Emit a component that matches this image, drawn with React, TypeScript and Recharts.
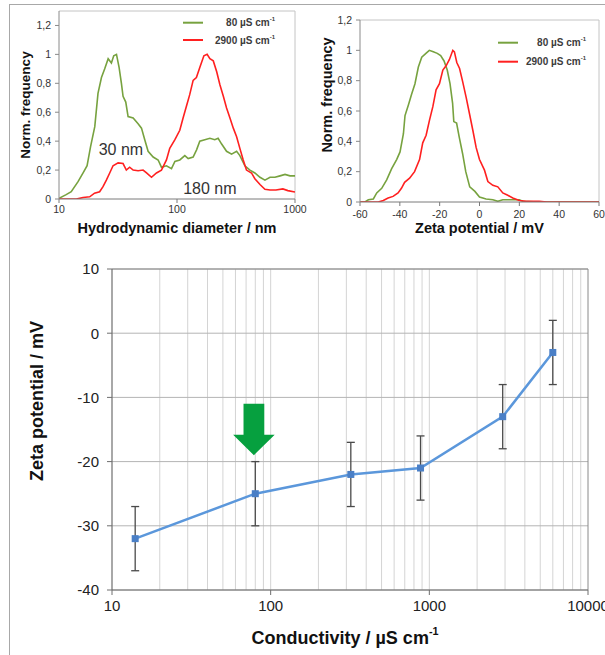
import React from 'react';
import {
  LineChart,
  ComposedChart,
  Line,
  XAxis,
  YAxis,
  CartesianGrid,
  ReferenceLine,
  ReferenceDot,
  ReferenceArea,
  ErrorBar,
  Legend,
  Label,
} from 'recharts';

// ---------- Top-left: hydrodynamic diameter distribution ----------
const dls80Diam = [10, 11.5, 12.7, 14.5, 16, 17.3, 18.5, 20.1, 21.4, 22.9, 24.4, 26.1, 27.8, 29.1, 30.7, 32.3, 33.8, 34.9, 36.8, 38.5, 42.5, 46.8, 50, 53.3, 56.9, 62.8, 69.2, 73.8, 81.4, 89.8, 96, 105.6, 116.5, 124.4, 137, 146.5, 156, 172, 190, 209, 223, 239, 263, 290, 320, 341, 376, 415, 457, 505, 556, 614, 676, 746, 823, 907, 1000];
const dls80Freq = [0.005, 0.03, 0.05, 0.12, 0.18, 0.23, 0.36, 0.5, 0.73, 0.84, 0.9, 0.97, 0.94, 0.99, 1.0, 0.91, 0.8, 0.71, 0.67, 0.57, 0.56, 0.52, 0.49, 0.41, 0.33, 0.29, 0.27, 0.22, 0.23, 0.21, 0.26, 0.27, 0.3, 0.28, 0.29, 0.34, 0.4, 0.41, 0.42, 0.41, 0.42, 0.38, 0.33, 0.31, 0.33, 0.3, 0.23, 0.2, 0.18, 0.15, 0.13, 0.15, 0.15, 0.16, 0.17, 0.16, 0.16];
const dls2900Diam = [10, 14, 16, 18.2, 20, 22.1, 23.6, 25.2, 26.9, 28.7, 31.7, 34.9, 37.2, 39.7, 42.5, 46.8, 51.6, 55.2, 60.8, 67, 73.8, 81.4, 86.8, 96, 105.6, 112.6, 120, 128, 137, 146, 156, 169, 180, 190, 203, 217, 231, 247, 263, 281, 300, 320, 341, 364, 388, 428, 457, 505, 556, 614, 689, 789, 870, 1000];
const dls2900Freq = [0, 0, 0.01, 0.015, 0.04, 0.05, 0.085, 0.13, 0.18, 0.23, 0.25, 0.245, 0.2, 0.22, 0.2, 0.195, 0.2, 0.18, 0.15, 0.18, 0.2, 0.27, 0.35, 0.41, 0.475, 0.56, 0.64, 0.72, 0.82, 0.84, 0.91, 0.99, 1.0, 0.97, 0.955, 0.88, 0.79, 0.71, 0.63, 0.56, 0.49, 0.43, 0.35, 0.27, 0.2, 0.18, 0.14, 0.1, 0.067, 0.062, 0.062, 0.07, 0.058, 0.048];

// ---------- Top-right: zeta potential distribution ----------
const zp80Pot = [-60, -57.5, -55.8, -53.3, -51.6, -49.1, -46.6, -44.1, -41.6, -39.9, -38.2, -37.4, -35.7, -34.1, -32.4, -30.7, -29, -26.9, -25.2, -23.2, -21.2, -19.5, -17.8, -16.2, -14.8, -13.5, -12.9, -11.5, -10.2, -8.5, -6.9, -4.9, -2.3, 0, 3.3, 6.7, 9.2, 11.7, 16.7, 20, 21.7, 30, 60];
const zp80Freq = [0, 0, 0.015, 0.02, 0.06, 0.09, 0.146, 0.22, 0.28, 0.33, 0.45, 0.57, 0.64, 0.71, 0.78, 0.89, 0.955, 0.98, 1.0, 0.99, 0.98, 0.965, 0.93, 0.87, 0.78, 0.65, 0.53, 0.52, 0.43, 0.32, 0.2, 0.1, 0.07, 0.033, 0.02, 0.015, 0.005, 0.015, 0.015, 0.015, 0.005, 0, 0];
const zp2900Pot = [-60, -50.8, -48.3, -45.9, -43.4, -40.9, -39.2, -37.6, -35.1, -32.6, -30.1, -28.5, -26.8, -25.1, -23.4, -21.8, -20.1, -18.4, -16.7, -15.1, -13.4, -12.6, -11.4, -10, -8.4, -6.7, -5, -3.3, -1.7, 0, 2.5, 4.2, 6.7, 9.2, 11.7, 14.2, 16.7, 20, 23.4, 30, 33.7, 60];
const zp2900Freq = [0, 0, 0.01, 0.026, 0.037, 0.06, 0.09, 0.13, 0.157, 0.2, 0.28, 0.39, 0.44, 0.54, 0.63, 0.74, 0.78, 0.87, 0.9, 0.94, 1.0, 0.99, 0.92, 0.88, 0.79, 0.69, 0.58, 0.47, 0.36, 0.28, 0.21, 0.135, 0.11, 0.1, 0.06, 0.044, 0.026, 0.01, 0.004, 0.004, 0, 0];

// ---------- Bottom: zeta potential vs conductivity ----------
const conductivity = [14, 80, 320, 880, 2900, 6000];
const zetaMean = [-32, -25, -22, -21, -13, -3];
const zetaErr = [5, 5, 5, 5, 5, 5];

const seriesNames = ['80 µS cm', '2900 µS cm'];
const seriesColors = ['#77a23f', '#ff2020'];

const normTicks = [0, 0.2, 0.4, 0.6, 0.8, 1, 1.2];
const diamTicks = [10, 100, 1000];
const potTicks = [-60, -40, -20, 0, 20, 40, 60];
const condTicks = [10, 100, 1000, 10000];
const zetaTicks = [-40, -30, -20, -10, 0, 10];
const condGrid = [20, 30, 40, 50, 60, 70, 80, 90, 100, 200, 300, 400, 500, 600, 700, 800, 900, 1000, 2000, 3000, 4000, 5000, 6000, 7000, 8000, 9000];

const FONT = '"Liberation Sans", Arial, Helvetica, sans-serif';

const zip = (xs: number[], ys: number[]) => xs.map((x, i) => ({ x, y: ys[i] }));
const dls80 = zip(dls80Diam, dls80Freq);
const dls2900 = zip(dls2900Diam, dls2900Freq);
const zp80 = zip(zp80Pot, zp80Freq);
const zp2900 = zip(zp2900Pot, zp2900Freq);
const bottomData = conductivity.map((c, i) => ({ x: c, z: zetaMean[i], err: zetaErr[i] }));

const comma = (v: number) => String(v).replace('.', ',');

function axisTitle(text: string, sup: string | null, fontSize: number, dx: number, dy: number, rotate: boolean) {
  return (props: any) => {
    const vb = props.viewBox || { x: 0, y: 0, width: 0, height: 0 };
    const cx = vb.x + vb.width / 2 + dx;
    const cy = vb.y + vb.height / 2 + dy;
    return (
      <text
        x={cx}
        y={cy}
        textAnchor="middle"
        dominantBaseline="central"
        fontSize={fontSize}
        fontWeight="bold"
        fontFamily={FONT}
        fill="#111"
        transform={rotate ? `rotate(-90 ${cx} ${cy})` : undefined}
      >
        {text}
        {sup ? (
          <tspan dy={-fontSize * 0.38} fontSize={fontSize * 0.6}>
            {sup}
          </tspan>
        ) : null}
      </text>
    );
  };
}

function legendContent(w: number, h: number, rows: number[], textEnd: number, fontSize: number) {
  return () => (
    <svg width={w} height={h} style={{ display: 'block', overflow: 'visible' }}>
      {seriesNames.map((n, i) => (
        <g key={n}>
          <line x1={3} x2={23} y1={rows[i]} y2={rows[i]} stroke={seriesColors[i]} strokeWidth={2} />
          <text
            x={textEnd}
            y={rows[i]}
            textAnchor="end"
            dominantBaseline="central"
            fontSize={fontSize}
            fontWeight="bold"
            fontFamily={FONT}
            fill="#3c3c3c"
          >
            {n}
            <tspan dy={-fontSize * 0.35} fontSize={fontSize * 0.6}>
              -1
            </tspan>
          </text>
        </g>
      ))}
    </svg>
  );
}

const ArrowShape = (p: any) => {
  const { x, y, width: w, height: h } = p;
  const s1 = x + w * 0.25;
  const s2 = x + w * 0.75;
  const hy = y + h * 0.6;
  const pts = `${s1},${y} ${s2},${y} ${s2},${hy} ${x + w},${hy} ${x + w / 2},${y + h} ${x},${hy} ${s1},${hy}`;
  return <polygon points={pts} fill="#06a03f" />;
};

const SquareDot = (p: any) => {
  if (p.cx == null || p.cy == null) return <g key={p.index} />;
  return <rect key={p.index} x={p.cx - 3.5} y={p.cy - 3.5} width={7} height={7} fill="#4a7fc6" />;
};

const smallTick = { fontSize: 10.5, fill: '#333', fontFamily: FONT };

export default function App() {
  return (
    <div
      style={{
        position: 'absolute',
        left: 0,
        top: 0,
        width: 605,
        height: 655,
        background: '#fff',
        overflow: 'hidden',
        fontFamily: FONT,
      }}
    >
      {/* outer frame */}
      <div
        style={{
          position: 'absolute',
          left: 9,
          top: 4,
          width: 600,
          height: 660,
          borderLeft: '1px solid #a8a8a8',
          borderTop: '1px solid #a8a8a8',
        }}
      />

      {/* Top-left chart */}
      <div style={{ position: 'absolute', left: 0, top: 0 }}>
        <LineChart width={318} height={240} margin={{ top: 11, right: 23, bottom: 21, left: 0 }}>
          <XAxis
            type="number"
            dataKey="x"
            scale="log"
            domain={[10, 1000]}
            ticks={diamTicks}
            allowDataOverflow
            height={20}
            tick={smallTick}
            tickSize={4}
            tickMargin={3}
            axisLine={{ stroke: '#7a7a7a' }}
            tickLine={{ stroke: '#7a7a7a' }}
          >
            <Label content={axisTitle('Hydrodynamic diameter / nm', null, 14.5, 0, 19, false)} />
          </XAxis>
          <YAxis
            type="number"
            domain={[0, 1.3]}
            ticks={normTicks}
            allowDataOverflow
            width={59}
            tick={smallTick}
            tickFormatter={comma}
            tickSize={4}
            tickMargin={4}
            axisLine={{ stroke: '#8a8a8a' }}
            tickLine={{ stroke: '#8a8a8a' }}
          >
            <Label content={axisTitle('Norm. frequency', null, 13.5, -4.5, 0, true)} />
          </YAxis>
          <ReferenceLine y={1.3} stroke="#c4c4c4" />
          <ReferenceLine x={1000} stroke="#c4c4c4" />
          <Line data={dls80} dataKey="y" stroke={seriesColors[0]} strokeWidth={1.6} dot={false} activeDot={false} isAnimationActive={false} />
          <Line data={dls2900} dataKey="y" stroke={seriesColors[1]} strokeWidth={1.6} dot={false} activeDot={false} isAnimationActive={false} />
          <ReferenceDot x={33.5} y={0.345} r={0} fill="none" stroke="none" label={{ value: '30 nm', position: 'center', fontSize: 16, fill: '#333', fontFamily: FONT }} />
          <ReferenceDot x={190} y={0.076} r={0} fill="none" stroke="none" label={{ value: '180 nm', position: 'center', fontSize: 16, fill: '#333', fontFamily: FONT }} />
          <Legend
            layout="vertical"
            align="center"
            verticalAlign="middle"
            wrapperStyle={{ left: 180, top: 12, width: 110, height: 36 }}
            content={legendContent(110, 36, [10.7, 28], 95, 10)}
          />
        </LineChart>
      </div>

      {/* Top-right chart */}
      <div style={{ position: 'absolute', left: 300, top: 0 }}>
        <LineChart width={305} height={240} margin={{ top: 20, right: 6, bottom: 18, left: 0 }}>
          <XAxis
            type="number"
            dataKey="x"
            domain={[-60, 60]}
            ticks={potTicks}
            allowDataOverflow
            height={20}
            tick={smallTick}
            tickSize={4}
            tickMargin={5}
            axisLine={{ stroke: '#7a7a7a' }}
            tickLine={{ stroke: '#7a7a7a' }}
          >
            <Label content={axisTitle('Zeta potential / mV', null, 14.5, 0, 16, false)} />
          </XAxis>
          <YAxis
            type="number"
            domain={[0, 1.2]}
            ticks={normTicks}
            allowDataOverflow
            width={60}
            tick={smallTick}
            tickFormatter={comma}
            tickSize={4}
            tickMargin={4}
            axisLine={{ stroke: '#8a8a8a' }}
            tickLine={{ stroke: '#8a8a8a' }}
          >
            <Label content={axisTitle('Norm. frequency', null, 14.5, -3, -16, true)} />
          </YAxis>
          <ReferenceLine y={1.2} stroke="#c4c4c4" />
          <ReferenceLine x={60} stroke="#c4c4c4" />
          <Line data={zp80} dataKey="y" stroke={seriesColors[0]} strokeWidth={1.6} dot={false} activeDot={false} isAnimationActive={false} />
          <Line data={zp2900} dataKey="y" stroke={seriesColors[1]} strokeWidth={1.6} dot={false} activeDot={false} isAnimationActive={false} />
          <Legend
            layout="vertical"
            align="center"
            verticalAlign="middle"
            wrapperStyle={{ left: 195, top: 33, width: 110, height: 40 }}
            content={legendContent(110, 40, [9.7, 28.7], 91, 10)}
          />
        </LineChart>
      </div>

      {/* Bottom chart */}
      <div style={{ position: 'absolute', left: 0, top: 240 }}>
        <ComposedChart width={605} height={415} data={bottomData} margin={{ top: 29, right: 17, bottom: 35, left: 52 }}>
          <CartesianGrid horizontal={false} vertical verticalValues={condGrid} stroke="#d4d4d4" />
          <CartesianGrid horizontal vertical={false} stroke="#b4b4b4" />
          <XAxis
            type="number"
            dataKey="x"
            scale="log"
            domain={[10, 10000]}
            ticks={condTicks}
            interval={0}
            allowDataOverflow
            height={30}
            tick={{ fontSize: 15, fill: '#222', fontFamily: FONT }}
            tickSize={5}
            tickMargin={5}
            axisLine={{ stroke: '#6e6e6e', strokeWidth: 1.2 }}
            tickLine={{ stroke: '#6e6e6e' }}
          >
            <Label content={axisTitle('Conductivity / µS cm', '-1', 18, -5, 33, false)} />
          </XAxis>
          <YAxis
            type="number"
            domain={[-40, 10]}
            ticks={zetaTicks}
            allowDataOverflow
            width={60}
            tick={{ fontSize: 15, fill: '#222', fontFamily: FONT }}
            tickSize={5}
            tickMargin={8}
            axisLine={{ stroke: '#6e6e6e', strokeWidth: 1.2 }}
            tickLine={{ stroke: '#6e6e6e' }}
          >
            <Label content={axisTitle('Zeta potential / mV', null, 18, -45, -28.5, true)} />
          </YAxis>
          <ReferenceLine y={10} stroke="#8a8a8a" />
          <ReferenceLine x={10000} stroke="#8a8a8a" />
          <ReferenceArea x1={58} x2={106} y1={-19} y2={-11} shape={ArrowShape} />
          <Line
            dataKey="z"
            stroke="#5b97db"
            strokeWidth={2.5}
            dot={SquareDot}
            activeDot={false}
            isAnimationActive={false}
          >
            <ErrorBar dataKey="err" direction="y" width={4} stroke="#4a4a4a" strokeWidth={1.3} isAnimationActive={false} />
          </Line>
        </ComposedChart>
      </div>
    </div>
  );
}
